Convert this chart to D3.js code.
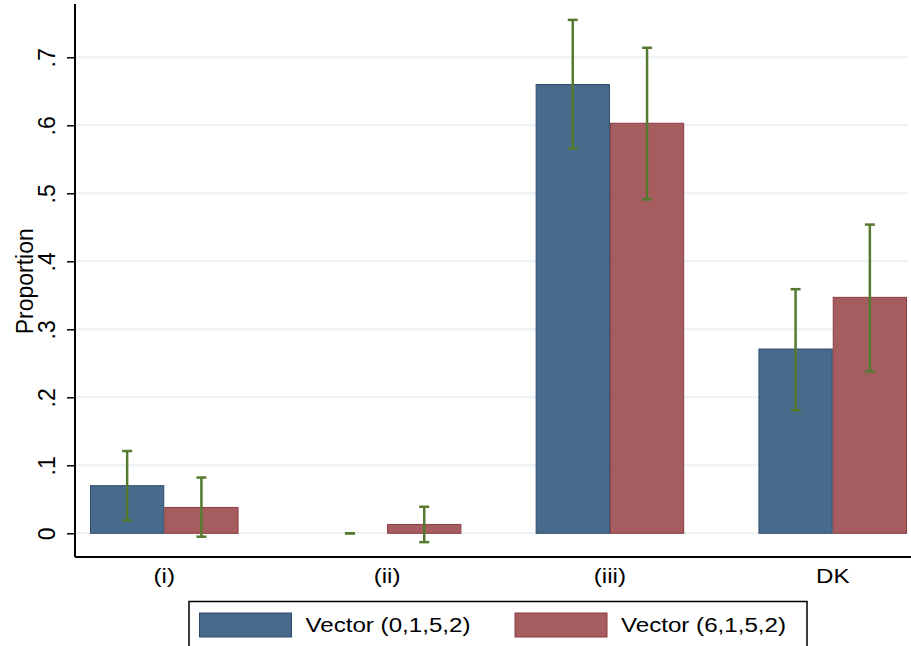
<!DOCTYPE html>
<html>
<head>
<meta charset="utf-8">
<script src="https://cdn.jsdelivr.net/npm/d3@7"></script>
<style>
  body { margin: 0; background: #fff; }
  svg { display: block; font-family: "Liberation Sans", Arial, sans-serif; }
  .label { font-size: 21px; fill: #000; }
  .vlabel { font-size: 23px; fill: #000; }
</style>
</head>
<body>
<div id="chart"></div>
<script>
// data
const categories = ['(i)', '(ii)', '(iii)', 'DK'];
const seriesNames = ['Vector (0,1,5,2)', 'Vector (6,1,5,2)'];
const vector0152 = [0.070, 0.000, 0.660, 0.271];
const vector6152 = [0.038, 0.013, 0.603, 0.347];
const lower0152 = [0.019, 0.000, 0.566, 0.181];
const upper0152 = [0.121, 0.000, 0.755, 0.359];
const lower6152 = [-0.005, -0.013, 0.491, 0.238];
const upper6152 = [0.082, 0.039, 0.714, 0.454];
const yTicks = [0, 0.1, 0.2, 0.3, 0.4, 0.5, 0.6, 0.7];
const yTickLabels = ['0', '.1', '.2', '.3', '.4', '.5', '.6', '.7'];
const yTitle = 'Proportion';

const width = 911, height = 646;
const stretch = 1.15; // the reference text is a bit wider than plain Arial
const colors = { fill: ['#486b8b', '#a55d60'], stroke: ['#2c4d70', '#8c3b42'], ci: '#557a2f', grid: '#e9f1f3' };
const plot = { left: 75, right: 909, top: 4, bottom: 557 };

const series = [
  { name: seriesNames[0], values: vector0152, lower: lower0152, upper: upper0152 },
  { name: seriesNames[1], values: vector6152, lower: lower6152, upper: upper6152 }
];

const svg = d3.select('#chart').append('svg')
              .attr('width', width)
              .attr('height', height);

const x = d3.scaleBand()
            .domain(categories)
            .range([90, 907])
            .paddingInner(1 / 3)
            .paddingOuter(0);

const xInner = d3.scaleBand()
                 .domain(d3.range(series.length))
                 .range([0, x.bandwidth()]);

const y = d3.scaleLinear()
            .domain([0, 0.7])
            .range([533.3, 57.3]);

// grid lines
svg.append('g')
   .selectAll('line')
   .data(yTicks)
   .join('line')
   .attr('x1', plot.left + 1)
   .attr('x2', plot.right - 1)
   .attr('y1', d => y(d))
   .attr('y2', d => y(d))
   .attr('stroke', colors.grid)
   .attr('stroke-width', 2);

// bars
const bars = [];
series.forEach((s, i) => {
  categories.forEach((c, j) => {
    bars.push({ cat: c, idx: i, value: s.values[j], lo: s.lower[j], hi: s.upper[j] });
  });
});

svg.append('g')
   .selectAll('rect')
   .data(bars.filter(d => d.value > 0))
   .join('rect')
   .attr('x', d => x(d.cat) + xInner(d.idx) + 0.5)
   .attr('y', d => y(d.value))
   .attr('width', xInner.bandwidth() - 1)
   .attr('height', d => y(0) - y(d.value))
   .attr('fill', d => colors.fill[d.idx])
   .attr('stroke', d => colors.stroke[d.idx])
   .attr('stroke-width', 1);

// confidence intervals
const ci = svg.append('g')
              .attr('stroke', colors.ci)
              .attr('stroke-width', 2.5)
              .selectAll('g')
              .data(bars)
              .join('g')
              .attr('transform', d => `translate(${x(d.cat) + xInner(d.idx) + xInner.bandwidth() / 2},0)`);

ci.append('line')
  .attr('y1', d => y(d.lo))
  .attr('y2', d => y(d.hi));
ci.append('line')
  .attr('x1', -5).attr('x2', 5)
  .attr('y1', d => y(d.hi)).attr('y2', d => y(d.hi));
ci.append('line')
  .attr('x1', -5).attr('x2', 5)
  .attr('y1', d => y(d.lo)).attr('y2', d => y(d.lo));

// y axis
const yAxis = d3.axisLeft(y)
                .tickValues(yTicks)
                .tickFormat((d, i) => yTickLabels[i])
                .tickSizeInner(8)
                .tickSizeOuter(0);

const yg = svg.append('g')
              .attr('transform', `translate(${plot.left},0)`)
              .call(yAxis);
yg.select('.domain').remove();
yg.selectAll('.tick line').attr('stroke', '#000').attr('stroke-width', 1.5);
yg.selectAll('.tick text')
  .attr('class', 'vlabel')
  .attr('font-size', null)
  .attr('font-family', null)
  .attr('x', null)
  .attr('dy', null)
  .attr('text-anchor', 'middle')
  .attr('transform', 'translate(-20,0) rotate(-90)');

svg.append('line')
   .attr('x1', plot.left).attr('x2', plot.left)
   .attr('y1', plot.top).attr('y2', plot.bottom)
   .attr('stroke', '#000').attr('stroke-width', 2);

svg.append('text')
   .attr('class', 'vlabel')
   .attr('text-anchor', 'middle')
   .attr('transform', `translate(33,${(y(0.3) + y(0.4)) / 2 - 14}) rotate(-90)`)
   .text(yTitle);

// x axis
svg.append('line')
   .attr('x1', plot.left).attr('x2', width)
   .attr('y1', plot.bottom).attr('y2', plot.bottom)
   .attr('stroke', '#000').attr('stroke-width', 2);

svg.append('g')
   .selectAll('text')
   .data(categories)
   .join('text')
   .attr('class', 'label')
   .attr('text-anchor', 'middle')
   .attr('transform', d => `translate(${x(d) + x.bandwidth() / 2},583) scale(${stretch},1)`)
   .text(d => d);

// legend
const legend = svg.append('g');
legend.append('rect')
      .attr('x', 189).attr('y', 601.5)
      .attr('width', 618).attr('height', 60)
      .attr('fill', '#fff')
      .attr('stroke', '#000')
      .attr('stroke-width', 1.5);

const item = legend.selectAll('g')
                   .data(series)
                   .join('g')
                   .attr('transform', (d, i) => `translate(${i ? 515 : 199.5},613)`);

item.append('rect')
    .attr('width', 92).attr('height', 24)
    .attr('fill', (d, i) => colors.fill[i])
    .attr('stroke', (d, i) => colors.stroke[i])
    .attr('stroke-width', 1);

item.append('text')
    .attr('class', 'label')
    .attr('transform', `translate(106,19) scale(${stretch},1)`)
    .text(d => d.name);
</script>
</body>
</html>
